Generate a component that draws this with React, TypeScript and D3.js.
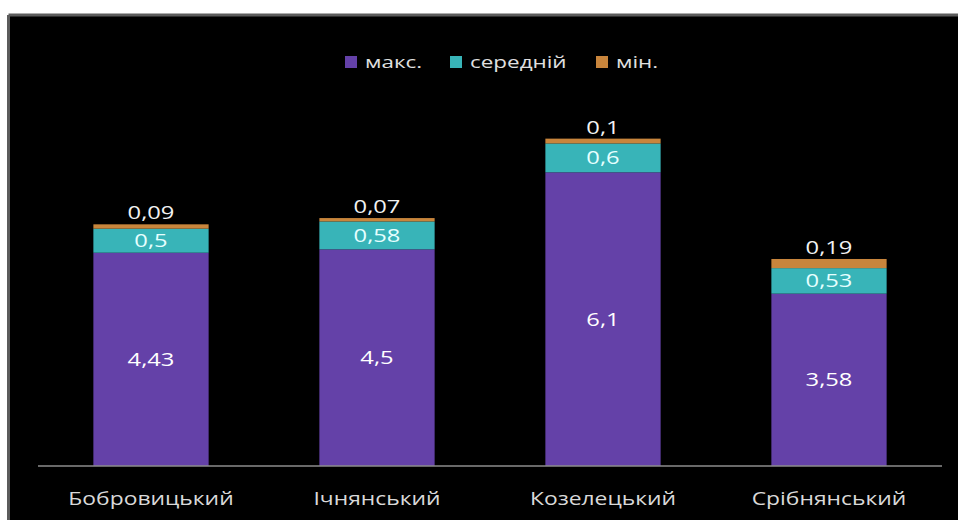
import React from "react";
import * as d3 from "d3";

const categories = ["Бобровицький", "Ічнянський", "Козелецький", "Срібнянський"];
const maxValues = [4.43, 4.5, 6.1, 3.58];
const midValues = [0.5, 0.58, 0.6, 0.53];
const minValues = [0.09, 0.07, 0.1, 0.19];
const seriesNames = ["макс.", "середній", "мін."];
const seriesColors = ["#6441a8", "#38b4b8", "#c8853c"];

const W = 958;
const H = 520;
const FONT = "'Open Sans', 'DejaVu Sans', sans-serif";
const SX = 1.32;

const fmt = (v: number) => String(v).replace(".", ",");

function SText(props: { x: number; y: number; anchor?: string; fill: string; size: number; sx?: number; children: any }) {
  const { x, y, anchor = "middle", fill, size, sx = SX, children } = props;
  return (
    <text
      transform={`translate(${x},${y}) scale(${sx},1)`}
      textAnchor={anchor as any}
      fill={fill}
      fontSize={size}
      fontFamily={FONT}
    >
      {children}
    </text>
  );
}

export default function App() {
  const x = d3.scaleBand<string>().domain(categories).range([38, 942]).paddingInner(0.49).paddingOuter(0.245);
  const y = d3.scaleLinear().domain([0, 7]).range([466, 129]);

  const rows = categories.map((c, i) => ({ cat: c, max: maxValues[i], mid: midValues[i], min: minValues[i] }));
  const stack = d3.stack<any>().keys(["max", "mid", "min"])(rows);

  const legendX = [345, 450, 596];

  return (
    <svg width={W} height={H} style={{ position: "absolute", left: 0, top: 0, display: "block" }}>
      <rect x={0} y={0} width={W} height={H} fill="#ffffff" />
      <rect x={9} y={15.5} width={W} height={H} fill="#000000" />
      <line x1={8.5} x2={W} y1={15} y2={15} stroke="#5c5c5c" strokeWidth={3} />
      <line x1={8.5} x2={8.5} y1={15} y2={H} stroke="#5c5c5c" strokeWidth={3} />
      {/* legend */}
      {seriesNames.map((n, i) => (
        <g key={n}>
          <rect x={legendX[i]} y={56} width={12} height={12} fill={seriesColors[i]} />
          <SText x={legendX[i] + 20} y={67.5} anchor="start" fill="#e0e0e0" size={17}>{n}</SText>
        </g>
      ))}
      {/* bars */}
      {stack.map((layer, si) =>
        layer.map((d, i) => (
          <rect
            key={`${si}-${i}`}
            x={x(categories[i])}
            width={x.bandwidth()}
            y={y(d[1])}
            height={y(d[0]) - y(d[1])}
            fill={seriesColors[si]}
          />
        ))
      )}
      {/* labels */}
      {stack.map((layer, si) =>
        layer.map((d, i) => {
          const cx = (x(categories[i]) as number) + x.bandwidth() / 2;
          const v = [maxValues, midValues, minValues][si][i];
          let ly: number;
          let fill = "#ffffff";
          if (si === 2) {
            ly = y(d[1]) - 5;
            fill = "#f2f2f2";
          } else {
            ly = (y(d[0]) + y(d[1])) / 2 + 6.5;
            fill = si === 1 ? "#e6ffff" : "#ffffff";
          }
          return (
            <SText key={`l${si}-${i}`} x={cx} y={ly} fill={fill} size={18}>
              {fmt(v)}
            </SText>
          );
        })
      )}
      {/* axis */}
      <line x1={38} x2={942} y1={466} y2={466} stroke="#8c8c8c" strokeWidth={1.5} />
      {categories.map((c) => (
        <SText key={c} x={(x(c) as number) + x.bandwidth() / 2} y={505} fill="#d9d9d9" size={18} sx={1.27}>
          {c}
        </SText>
      ))}
    </svg>
  );
}
